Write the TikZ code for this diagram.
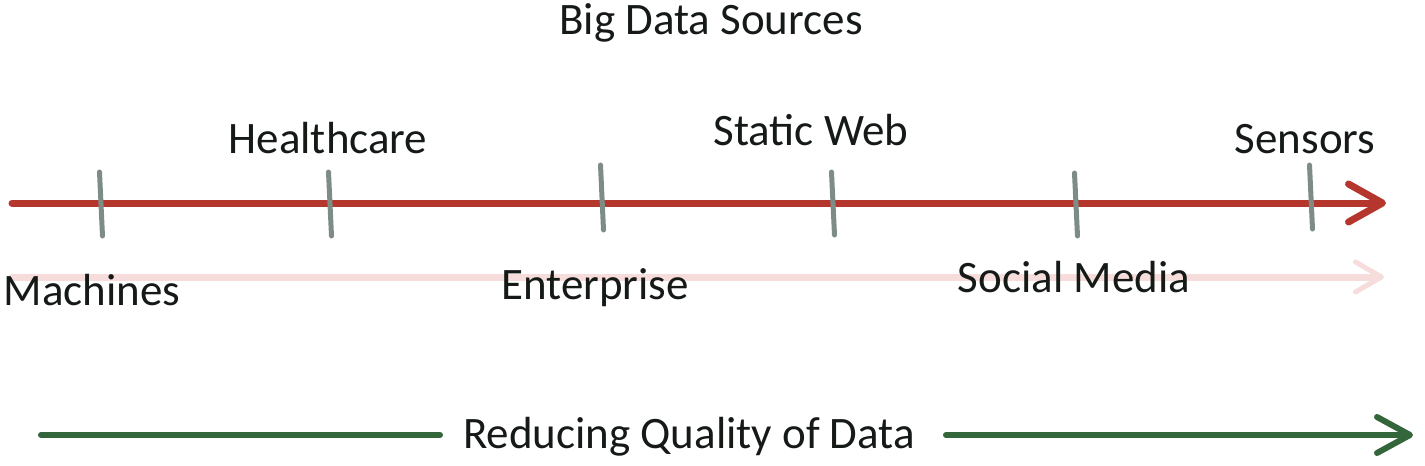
\documentclass[tikz,border=0pt]{standalone}
\usepackage{fontspec}
\setmainfont{Carlito}
\usetikzlibrary{arrows.meta}
\definecolor{axisred}{HTML}{B5362C}
\definecolor{tickgray}{HTML}{7D8C85}
\definecolor{darkgreen}{HTML}{33663A}
\definecolor{faintpink}{HTML}{F6DDDC}
\definecolor{txt}{HTML}{151A17}
\tikzset{
  lbl/.style={inner sep=0pt, anchor=base, text=txt, font=\fontsize{45}{54}\selectfont},
  tickmark/.style={draw=tickgray, line width=5pt, line cap=round},
  redaxis/.style={draw=axisred, line width=7pt, line cap=round,
    -{Straight Barb[length=34pt, width=38pt, line width=7pt, round]}},
  pinkaxis/.style={draw=faintpink, line width=7pt, line cap=round,
    -{Straight Barb[length=26pt, width=30pt, line width=5pt, round]}},
  greenline/.style={draw=darkgreen, line width=6pt, line cap=round},
  greenarrow/.style={greenline, -{Straight Barb[length=33pt, width=36pt, line width=6pt, round]}}
}
\begin{document}
\begin{tikzpicture}[x=1pt, y=-1pt]
\useasboundingbox (0,0) rectangle (1425,466);
% faint shadow axis
\coordinate (ps) at (12,277);
\coordinate (pe) at (1384,277);
\draw[pinkaxis] (ps) -- (pe);
% main axis
\coordinate (as) at (12,203);
\coordinate (ae) at (1386,203);
\draw[redaxis] (as) -- (ae);
% ticks
\foreach \n/\x/\t/\b in {t1/101/172/236, t2/330/172/236, t3/602/165/230, t4/833/172/235, t5/1076/173/236, t6/1311/165/229}{
  \coordinate (\n top) at (\x-1.5,\t);
  \coordinate (\n bot) at (\x+1.5,\b);
  \draw[tickmark] (\n top) -- (\n bot);
}
% labels
\node[lbl] (title) at (711,34) {Big Data Sources};
\node[lbl] (health) at (328,153) {Healthcare};
\node[lbl] (static) at (811,145) {Static Web};
\node[lbl] (sensors) at (1305,153) {Sensors};
\node[lbl] (mach) at (92,305) {Machines};
\node[lbl] (ent) at (595,299) {Enterprise};
\node[lbl] (social) at (1074,292) {Social Media};
\node[lbl] (quality) at (689,448) {Reducing Quality of Data};
% quality arrow
\coordinate (gs) at (41,435);
\coordinate (gm) at (440,435);
\coordinate (gr) at (946,435);
\coordinate (ge) at (1413,435);
\draw[greenline] (gs) -- (gm);
\draw[greenarrow] (gr) -- (ge);
\end{tikzpicture}
\end{document}
